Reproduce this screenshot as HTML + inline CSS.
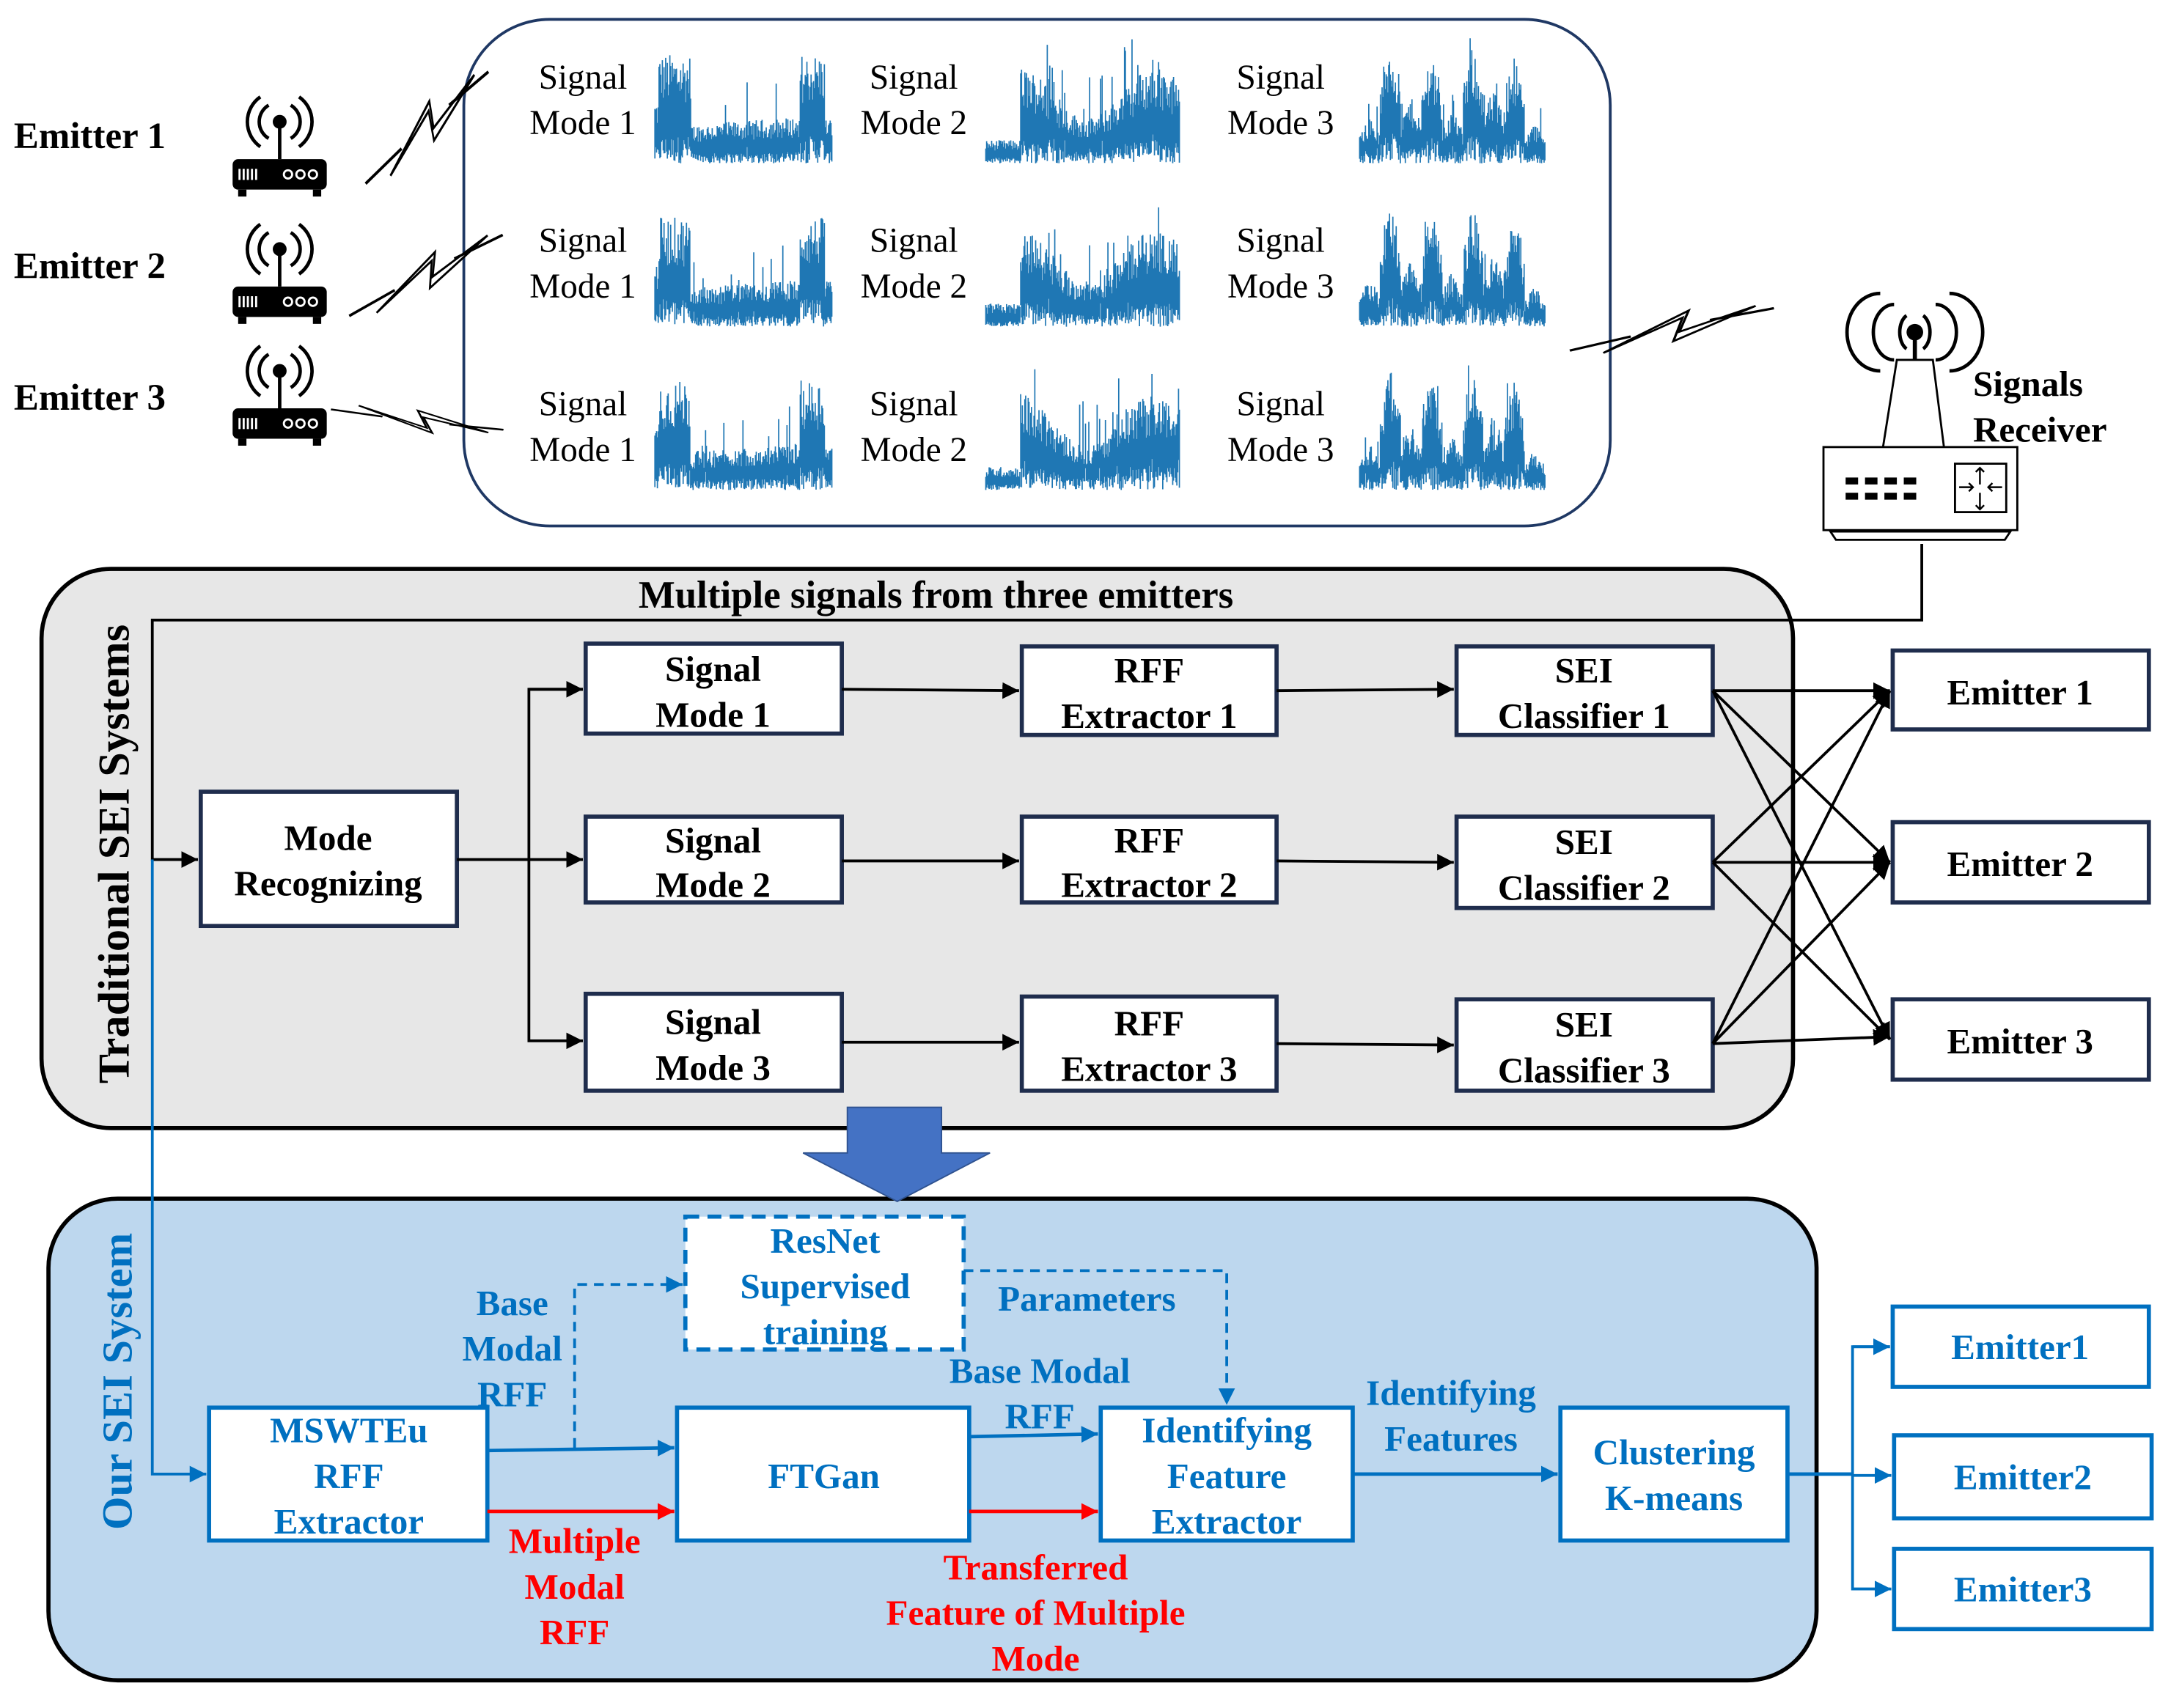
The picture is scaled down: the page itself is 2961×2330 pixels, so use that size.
<!DOCTYPE html>
<html><head><meta charset="utf-8"><style>
html,body{margin:0;padding:0;background:#fff;}
svg{display:block;}
text{font-family:"Liberation Serif",serif;}
</style></head><body>
<svg id="s" width="2961" height="2330" viewBox="0 0 1568 1234" preserveAspectRatio="none" xmlns="http://www.w3.org/2000/svg">
<defs>
<marker id="ak" markerUnits="userSpaceOnUse" markerWidth="14" markerHeight="14" refX="12" refY="6" orient="auto"><path d="M0,0 L12,6 L0,12 z" fill="#000"/></marker>
<marker id="ab" markerUnits="userSpaceOnUse" markerWidth="14" markerHeight="14" refX="12" refY="6" orient="auto"><path d="M0,0 L12,6 L0,12 z" fill="#0070c0"/></marker>
<marker id="ar" markerUnits="userSpaceOnUse" markerWidth="14" markerHeight="14" refX="12" refY="6" orient="auto"><path d="M0,0 L12,6 L0,12 z" fill="#ff0000"/></marker>
<g id="router">
 <path d="M26,6 A14,14 0 0 0 26,30" fill="none" stroke="#000" stroke-width="2.5"/>
 <path d="M42,6 A14,14 0 0 1 42,30" fill="none" stroke="#000" stroke-width="2.5"/>
 <path d="M20,0 A22,22 0 0 0 20,36" fill="none" stroke="#000" stroke-width="2.5"/>
 <path d="M48,0 A22,22 0 0 1 48,36" fill="none" stroke="#000" stroke-width="2.5"/>
 <circle cx="34" cy="18" r="5" fill="#000"/>
 <line x1="34" y1="18" x2="34" y2="45" stroke="#000" stroke-width="2.5"/>
 <rect x="0" y="45" width="68" height="22" rx="4" fill="#000"/>
 <rect x="4" y="67" width="6" height="5" fill="#000"/><rect x="58" y="67" width="6" height="5" fill="#000"/>
 <g stroke="#fff" stroke-width="1.5"><line x1="5" y1="52" x2="5" y2="60"/><line x1="8" y1="52" x2="8" y2="60"/><line x1="11" y1="52" x2="11" y2="60"/><line x1="14" y1="52" x2="14" y2="60"/><line x1="17" y1="52" x2="17" y2="60"/></g>
 <g fill="none" stroke="#fff" stroke-width="1.5"><circle cx="40" cy="56" r="3"/><circle cx="49" cy="56" r="3"/><circle cx="58" cy="56" r="3"/></g>
</g>
<g id="bolt">
 <polygon points="0,0 52,-30 46,-10 100,-40 50,-18 56,-36" fill="#fff" stroke="#000" stroke-width="1.6" stroke-linejoin="miter"/>
 <line x1="-22" y1="-2" x2="18" y2="-14" stroke="#000" stroke-width="2"/>
 <line x1="70" y1="-28" x2="112" y2="-38" stroke="#000" stroke-width="2"/>
</g>
</defs>

<rect x="335" y="14" width="828" height="366" rx="62" fill="#fff" stroke="#1f3864" stroke-width="2"/>

<g font-size="27" font-weight="bold">
<text x="10" y="107">Emitter 1</text>
<text x="10" y="201">Emitter 2</text>
<text x="10" y="296">Emitter 3</text>
</g>
<use href="#router" x="168" y="70"/>
<use href="#router" x="168" y="162"/>
<use href="#router" x="168" y="250"/>
<g transform="translate(282,127) rotate(-24)"><use href="#bolt" transform="scale(0.85,1.05)"/></g>
<g transform="translate(272,226) rotate(-12)"><use href="#bolt" transform="scale(0.9,0.95)"/></g>
<g transform="translate(260,306) rotate(-4) scale(0.92,-0.65) translate(0,20)"><use href="#bolt"/></g>
<g transform="translate(1158,255)"><use href="#bolt" transform="scale(1.1,0.85)"/></g>

<g id="labels" font-size="25" text-anchor="middle"></g>
<g id="waves" fill="none" stroke="#1f77b4" stroke-width="0.9"></g>

<g fill="none" stroke="#000" stroke-width="2.5">
 <path d="M1377,228 A8,13 0 0 0 1377,252"/><path d="M1389,228 A8,13 0 0 1 1389,252"/>
 <path d="M1368,220 A15,20 0 0 0 1368,260"/><path d="M1398,220 A15,20 0 0 1 1398,260"/>
 <path d="M1358,212 A24,28 0 0 0 1358,268"/><path d="M1408,212 A24,28 0 0 1 1408,268"/>
</g>
<circle cx="1383" cy="240" r="6" fill="#000"/>
<line x1="1383" y1="240" x2="1383" y2="260" stroke="#000" stroke-width="3"/>
<polygon points="1370,260 1396,260 1404,323 1360,323" fill="#fff" stroke="#000" stroke-width="1.5"/>
<rect x="1317" y="323" width="140" height="60" fill="#fff" stroke="#000" stroke-width="1.5"/>
<polygon points="1322,384 1452,384 1448,390 1326,390" fill="#fff" stroke="#000" stroke-width="1.5"/>
<g fill="#000">
 <rect x="1333" y="345" width="9" height="5"/><rect x="1347" y="345" width="9" height="5"/><rect x="1361" y="345" width="9" height="5"/><rect x="1375" y="345" width="9" height="5"/>
 <rect x="1333" y="356" width="9" height="5"/><rect x="1347" y="356" width="9" height="5"/><rect x="1361" y="356" width="9" height="5"/><rect x="1375" y="356" width="9" height="5"/>
</g>
<rect x="1412" y="335" width="37" height="35" fill="#fff" stroke="#000" stroke-width="1.5"/>
<g stroke="#000" stroke-width="1.3" fill="none"><path d="M1430,338 v12 M1427,341 l3,-3 3,3"/><path d="M1430,356 v12 M1427,365 l3,3 3,-3"/><path d="M1415,352 h10 M1422,349 l3,3 -3,3"/><path d="M1446,352 h-10 M1439,349 l-3,3 3,3"/></g>
<text x="1425" y="286" font-size="26" font-weight="bold">Signals</text>
<text x="1425" y="319" font-size="26" font-weight="bold">Receiver</text>

<rect x="30" y="411" width="1265" height="404" rx="50" fill="#e7e7e7" stroke="#000" stroke-width="3"/>
<text x="676" y="439" font-size="28" font-weight="bold" text-anchor="middle">Multiple signals from three emitters</text>
<text transform="translate(93,617) rotate(-90)" font-size="32" font-weight="bold" text-anchor="middle">Traditional SEI Systems</text>

<polyline points="1388,393 1388,448 110,448 110,621 143,621" fill="none" stroke="#000" stroke-width="2" marker-end="url(#ak)"/>

<g fill="#fff" stroke="#1f2d4d" stroke-width="3">
<rect x="145" y="572" width="185" height="97"/>
<rect x="423" y="465" width="185" height="65"/><rect x="423" y="590" width="185" height="62"/><rect x="423" y="718" width="185" height="70"/>
<rect x="738" y="467" width="184" height="64"/><rect x="738" y="590" width="184" height="62"/><rect x="738" y="720" width="184" height="68"/>
<rect x="1052" y="467" width="185" height="64"/><rect x="1052" y="590" width="185" height="66"/><rect x="1052" y="722" width="185" height="66"/>
<rect x="1367" y="470" width="185" height="57"/><rect x="1367" y="594" width="185" height="58"/><rect x="1367" y="722" width="185" height="58"/>
</g>
<g font-size="26" font-weight="bold" text-anchor="middle">
<text x="237" y="614">Mode</text><text x="237" y="647">Recognizing</text>
<text x="515" y="492">Signal</text><text x="515" y="525">Mode 1</text>
<text x="515" y="616">Signal</text><text x="515" y="648">Mode 2</text>
<text x="515" y="747">Signal</text><text x="515" y="780">Mode 3</text>
<text x="830" y="493">RFF</text><text x="830" y="526">Extractor 1</text>
<text x="830" y="616">RFF</text><text x="830" y="648">Extractor 2</text>
<text x="830" y="748">RFF</text><text x="830" y="781">Extractor 3</text>
<text x="1144" y="493">SEI</text><text x="1144" y="526">Classifier 1</text>
<text x="1144" y="617">SEI</text><text x="1144" y="650">Classifier 2</text>
<text x="1144" y="749">SEI</text><text x="1144" y="782">Classifier 3</text>
<text x="1459" y="509">Emitter 1</text><text x="1459" y="633">Emitter 2</text><text x="1459" y="761">Emitter 3</text>
</g>
<g fill="none" stroke="#000" stroke-width="2">
<line x1="330" y1="621" x2="421" y2="621" marker-end="url(#ak)"/>
<polyline points="421,498 382,498 382,752 421,752" marker-end="url(#ak)"/>
<line x1="382" y1="498" x2="421" y2="498" marker-end="url(#ak)"/>
<line x1="608" y1="498" x2="736" y2="499" marker-end="url(#ak)"/>
<line x1="608" y1="622" x2="736" y2="622" marker-end="url(#ak)"/>
<line x1="608" y1="753" x2="736" y2="753" marker-end="url(#ak)"/>
<line x1="922" y1="499" x2="1050" y2="498" marker-end="url(#ak)"/>
<line x1="922" y1="622" x2="1050" y2="623" marker-end="url(#ak)"/>
<line x1="922" y1="754" x2="1050" y2="755" marker-end="url(#ak)"/>
<line x1="1237" y1="499" x2="1365" y2="499" marker-end="url(#ak)"/>
<line x1="1237" y1="499" x2="1365" y2="623" marker-end="url(#ak)"/>
<line x1="1237" y1="499" x2="1365" y2="751" marker-end="url(#ak)"/>
<line x1="1237" y1="623" x2="1365" y2="499" marker-end="url(#ak)"/>
<line x1="1237" y1="623" x2="1365" y2="623" marker-end="url(#ak)"/>
<line x1="1237" y1="623" x2="1365" y2="751" marker-end="url(#ak)"/>
<line x1="1237" y1="754" x2="1365" y2="499" marker-end="url(#ak)"/>
<line x1="1237" y1="754" x2="1365" y2="623" marker-end="url(#ak)"/>
<line x1="1237" y1="754" x2="1365" y2="749" marker-end="url(#ak)"/>
</g>

<rect x="35" y="866" width="1277" height="348" rx="50" fill="#bdd7ee" stroke="#000" stroke-width="3"/>
<polyline points="110,621 110,1065 149,1065" fill="none" stroke="#0070c0" stroke-width="2" marker-end="url(#ab)"/>
<polygon points="612,800 680,800 680,833 715,833 648,868 580,833 612,833" fill="#4472c4" stroke="#2f528f" stroke-width="1"/>
<text transform="translate(95,998) rotate(-90)" font-size="31" font-weight="bold" fill="#0070c0" text-anchor="middle">Our SEI System</text>

<rect x="495" y="879" width="201" height="96" fill="#fff" stroke="#0070c0" stroke-width="3" stroke-dasharray="10,6"/>
<g fill="#fff" stroke="#0070c0" stroke-width="3">
<rect x="151" y="1017" width="201" height="96"/><rect x="489" y="1017" width="211" height="96"/>
<rect x="795" y="1017" width="182" height="96"/><rect x="1127" y="1017" width="164" height="96"/>
<rect x="1367" y="944" width="185" height="58"/><rect x="1368" y="1037" width="186" height="60"/><rect x="1368" y="1119" width="186" height="58"/>
</g>
<g fill="none" stroke-width="2.5">
<polyline points="415,1046 415,928 493,928" stroke="#0070c0" stroke-width="2" stroke-dasharray="7,5" marker-end="url(#ab)"/>
<polyline points="696,918 886,918 886,1015" stroke="#0070c0" stroke-width="2" stroke-dasharray="7,5" marker-end="url(#ab)"/>
<line x1="352" y1="1048" x2="487" y2="1046" stroke="#0070c0" marker-end="url(#ab)"/>
<line x1="352" y1="1092" x2="487" y2="1092" stroke="#ff0000" marker-end="url(#ar)"/>
<line x1="700" y1="1038" x2="793" y2="1036" stroke="#0070c0" marker-end="url(#ab)"/>
<line x1="700" y1="1092" x2="793" y2="1092" stroke="#ff0000" marker-end="url(#ar)"/>
<line x1="977" y1="1065" x2="1125" y2="1065" stroke="#0070c0" marker-end="url(#ab)"/>
<polyline points="1291,1065 1338,1065" stroke="#0070c0"/>
<polyline points="1365,973 1338,973 1338,1148 1365,1148" stroke="#0070c0" stroke-width="2"/>
<line x1="1338" y1="973" x2="1365" y2="973" stroke="#0070c0" stroke-width="2" marker-end="url(#ab)"/>
<line x1="1338" y1="1066" x2="1366" y2="1066" stroke="#0070c0" stroke-width="2" marker-end="url(#ab)"/>
<line x1="1338" y1="1148" x2="1366" y2="1148" stroke="#0070c0" stroke-width="2" marker-end="url(#ab)"/>
</g>
<g font-size="26" font-weight="bold" text-anchor="middle" fill="#0070c0">
<text x="596" y="905">ResNet</text><text x="596" y="938">Supervised</text><text x="596" y="971">training</text>
<text x="252" y="1042">MSWTEu</text><text x="252" y="1075">RFF</text><text x="252" y="1108">Extractor</text>
<text x="595" y="1075">FTGan</text>
<text x="886" y="1042">Identifying</text><text x="886" y="1075">Feature</text><text x="886" y="1108">Extractor</text>
<text x="1209" y="1058">Clustering</text><text x="1209" y="1091">K-means</text>
<text x="1459" y="982">Emitter1</text><text x="1461" y="1076">Emitter2</text><text x="1461" y="1157">Emitter3</text>
<text x="370" y="950">Base</text><text x="370" y="983">Modal</text><text x="370" y="1016">RFF</text>
<text x="785" y="947">Parameters</text>
<text x="751" y="999">Base Modal</text><text x="751" y="1032">RFF</text>
<text x="1048" y="1015">Identifying</text><text x="1048" y="1048">Features</text>
</g>
<g font-size="26" font-weight="bold" text-anchor="middle" fill="#ff0000">
<text x="415" y="1122">Multiple</text><text x="415" y="1155">Modal</text><text x="415" y="1188">RFF</text>
<text x="748" y="1141">Transferred</text><text x="748" y="1174">Feature of Multiple</text><text x="748" y="1207">Mode</text>
</g>
</svg>
<script>
(function(){
var NS="http://www.w3.org/2000/svg";
var lab=document.getElementById("labels"), wv=document.getElementById("waves");
var cols=[[421,473,128,1],[660,712,140,2],[925,982,134,3]];
var seed=12345;function r(){seed=(seed*1103515245+12345)%2147483648;return seed/2147483648;}
for(var row=0;row<3;row++){
 var oy=row*118;
 for(var c=0;c<3;c++){
  var col=cols[c];
  var t1=document.createElementNS(NS,"text");t1.setAttribute("x",col[0]);t1.setAttribute("y",64+oy);t1.textContent="Signal";lab.appendChild(t1);
  var t2=document.createElementNS(NS,"text");t2.setAttribute("x",col[0]);t2.setAttribute("y",97+oy);t2.textContent="Mode "+(c+1);lab.appendChild(t2);
  var x0=col[1],w=col[2],top=25+oy,h=93,base=top+h,d="";
  for(var x=0;x<w;x+=0.6){
   var t=x/w,a;
   if(col[3]==1){a=(t<0.02)?0.5:(t<0.2)?0.85:(t<0.82)?(0.28+0.1*t+(r()<0.05?0.3:0)):(t<0.96)?0.85:0.35;}
   else if(col[3]==2){a=(t<0.18)?0.18:(0.55+0.2*Math.sin(t*9)+(r()<0.08?0.35:0));}
   else{var seg=[0.35,0.95,0.5,0.85,0.4,0.9,0.55,0.8,0.3];var k=Math.floor(t*9);a=seg[k]*(0.6+0.4*Math.abs(Math.sin(t*9*Math.PI)))+(r()<0.05?0.2:0);}
   if(a>1)a=1;
   var y1=base-a*h*(0.55+0.45*r()), y2=base-r()*a*h*0.25;
   d+="M"+(x0+x).toFixed(1)+","+y1.toFixed(1)+"V"+y2.toFixed(1);
  }
  var p=document.createElementNS(NS,"path");p.setAttribute("d",d);wv.appendChild(p);
 }
}
})();
</script>
</body></html>
